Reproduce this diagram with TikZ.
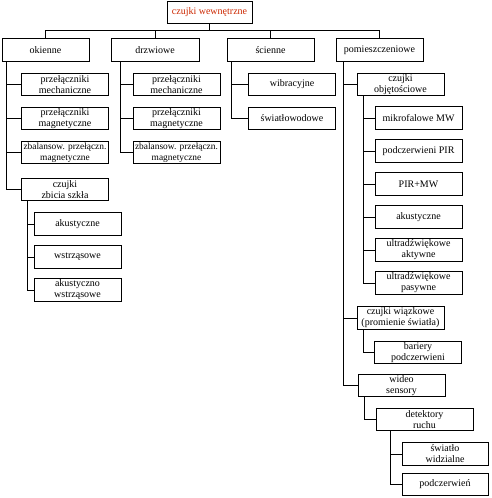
\documentclass[tikz,border=0pt]{standalone}
\usepackage{fontspec}
\setmainfont{Liberation Serif}
\usepackage{xcolor}
\usepackage{tikz}
\usetikzlibrary{positioning}
\definecolor{rootred}{RGB}{204,40,0}
\tikzset{
    link/.style={line width=0.7pt},
    box/.style={draw, rectangle, line width=0.8pt, font=\fontsize{10}{11}\selectfont, fill=white, minimum width=87pt, minimum height=22.5pt, inner sep=1pt, align=center},
    tight/.style={font=\fontsize{9.4}{11}\selectfont, inner xsep=0pt}
}

\begin{document}
\begin{tikzpicture}[x=1pt, y=1pt, node distance=33pt]
    \useasboundingbox (0,0) rectangle (491,-498);
    % top
    \node (root) [box, minimum width=85pt, text=rootred] at (209.5,-12.5) {czujki wewnętrzne};
    \node (okienne) [box] at (45.5,-50) {okienne};
    \node (drzwiowe) [box, minimum width=88pt] at (155,-50) {drzwiowe};
    \node (scienne) [box] at (270.5,-50) {ścienne};
    \node (pomieszcz) [box] at (379.5,-50) {pomieszczeniowe};
    \foreach \n in {okienne,drzwiowe,scienne,pomieszcz}
        \draw [link] (root.south) -- ++(0,-6) -| (\n.north);

    % okienne
    \node (okn1) [box] at (65,-84.5) {przełączniki\\mechaniczne};
    \node (okn2) [box, node distance=34pt, below of=okn1] {przełączniki\\magnetyczne};
    \node (okn3) [box, tight, node distance=34pt, below of=okn2] {zbalansow. przełączn.\\magnetyczne};
    \node (okn4) [box, node distance=37pt, below of=okn3] {czujki\\zbicia szkła};
    \foreach \c in {okn1,okn2,okn3,okn4}
        \draw [link] ([xshift=5pt]okienne.south west) |- (\c.west);
    \node (szk1) [box] at (77.5,-224) {akustyczne};
    \node (szk2) [box, below of=szk1] {wstrząsowe};
    \node (szk3) [box, below of=szk2] {akustyczno\\wstrząsowe};
    \foreach \c in {szk1,szk2,szk3}
        \draw [link] ([xshift=6pt]okn4.south west) |- (\c.west);

    % drzwiowe
    \node (drz1) [box] at (176.5,-84.5) {przełączniki\\mechaniczne};
    \node (drz2) [box, node distance=34pt, below of=drz1] {przełączniki\\magnetyczne};
    \node (drz3) [box, tight, node distance=34pt, below of=drz2] {zbalansow. przełączn.\\magnetyczne};
    \foreach \c in {drz1,drz2,drz3}
        \draw [link] ([xshift=10pt]drzwiowe.south west) |- (\c.west);

    % scienne
    \node (sci1) [box] at (292,-84.5) {wibracyjne};
    \node (sci2) [box, node distance=34pt, below of=sci1] {światłowodowe};
    \foreach \c in {sci1,sci2}
        \draw [link] ([xshift=5pt]scienne.south west) |- (\c.west);

    % pomieszczeniowe
    \node (pom1) [box] at (400.5,-84.5) {czujki\\objętościowe};
    \node (pom2) [box] at (400.5,-318) {czujki wiązkowe\\(promienie światła)};
    \node (pom3) [box] at (401.5,-385.5) {wideo\\sensory};
    \foreach \c in {pom1,pom2,pom3}
        \draw [link] ([xshift=8pt]pomieszcz.south west) |- (\c.west);
    \node (obj1) [box] at (418.5,-118) {mikrofalowe MW};
    \node (obj2) [box, below of=obj1] {podczerwieni PIR};
    \node (obj3) [box, below of=obj2] {PIR+MW};
    \node (obj4) [box, below of=obj3] {akustyczne};
    \node (obj5) [box, below of=obj4] {ultradźwiękowe\\aktywne};
    \node (obj6) [box, below of=obj5] {ultradźwiękowe\\pasywne};
    \foreach \c in {obj1,obj2,obj3,obj4,obj5,obj6}
        \draw [link] ([xshift=7pt]pom1.south west) |- (\c.west);
    \node (bar1) [box] at (418,-352.5) {bariery\\podczerwieni};
    \draw [link] ([xshift=7pt]pom2.south west) |- (bar1.west);
    \node (wid1) [box, minimum width=97pt] at (424.5,-419.5) {detektory\\ruchu};
    \draw [link] ([xshift=7pt]pom3.south west) |- (wid1.west);
    \node (det1) [box, minimum width=86pt] at (445,-454) {światło\\widzialne};
    \node (det2) [box, minimum width=86pt, node distance=30.5pt, below of=det1] {podczerwień};
    \foreach \c in {det1,det2}
        \draw [link] ([xshift=15pt]wid1.south west) |- (\c.west);
\end{tikzpicture}
\end{document}
